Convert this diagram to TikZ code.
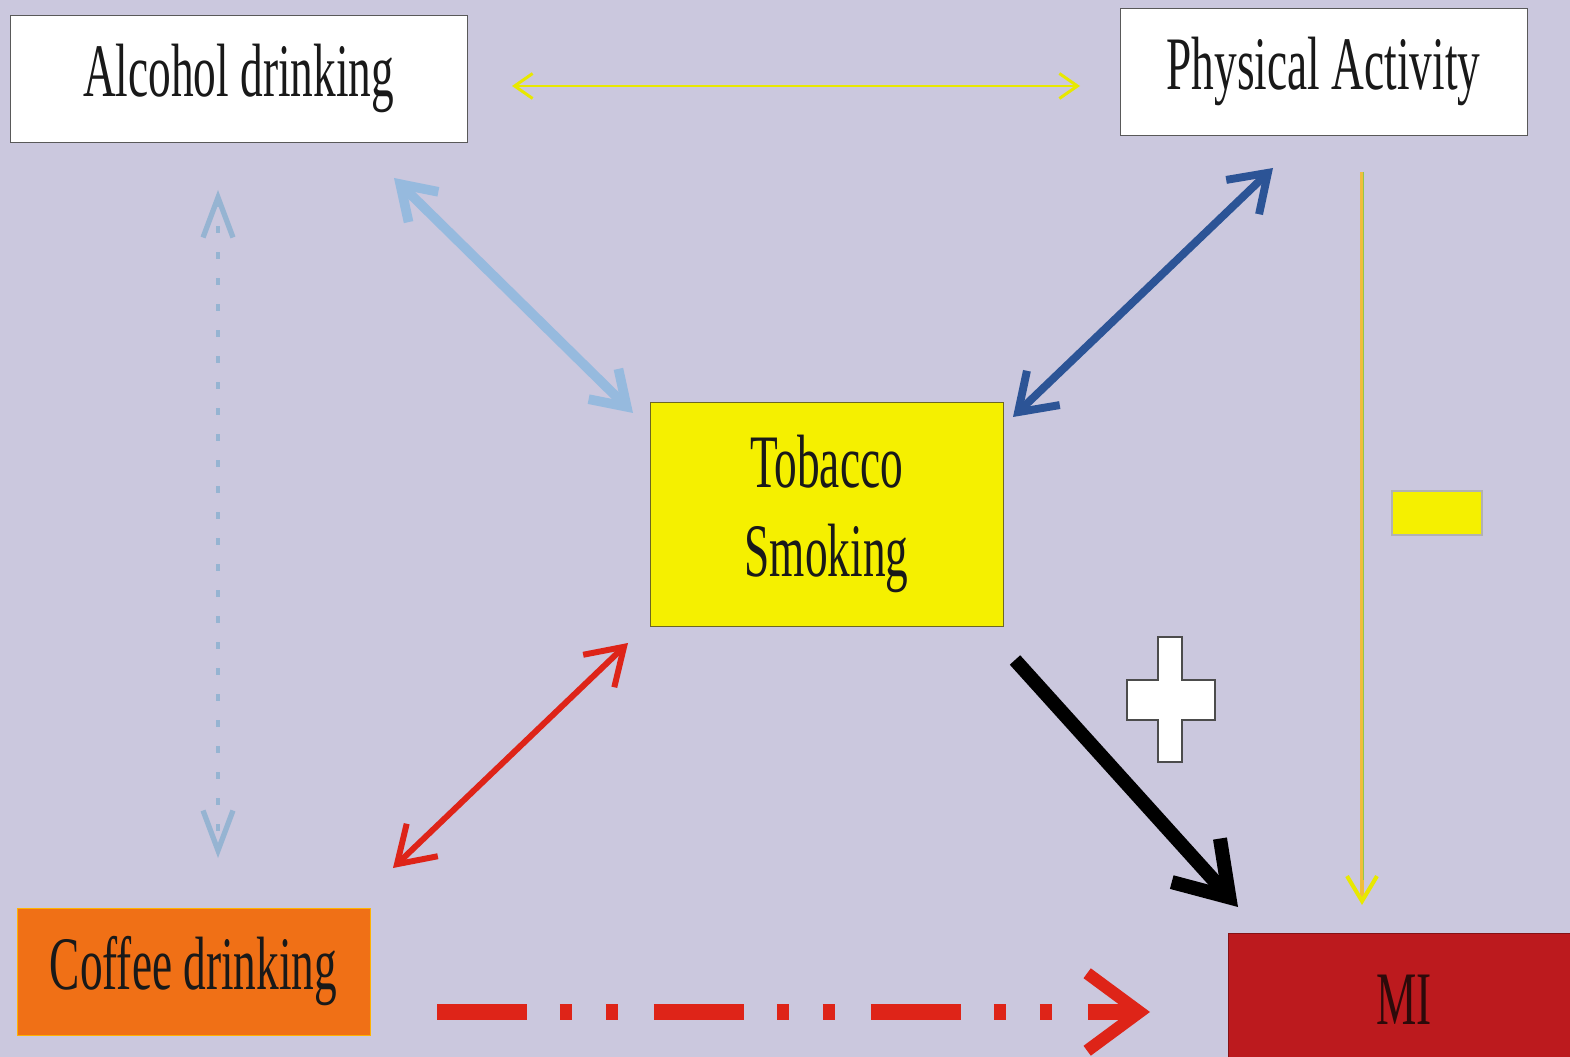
\documentclass[tikz,border=0pt]{standalone}
\usepackage{fontspec}
\setmainfont{Liberation Serif}
\usepackage{graphicx}
\usetikzlibrary{arrows.meta}

\definecolor{bgcol}{RGB}{203,200,222}
\definecolor{tobyellow}{RGB}{245,240,0}
\definecolor{cofforange}{RGB}{240,112,22}
\definecolor{mired}{RGB}{188,26,30}
\definecolor{lightblue}{RGB}{150,186,222}
\definecolor{darkblue}{RGB}{44,84,150}
\definecolor{arrowred}{RGB}{222,36,24}
\definecolor{lineyellow}{RGB}{232,232,0}
\definecolor{lineorange}{RGB}{240,190,60}
\definecolor{linegreen}{RGB}{150,200,70}
\definecolor{dotblue}{RGB}{150,180,210}

\newcommand{\narrow}[1]{\scalebox{0.6}[1]{#1}}

\begin{document}
\begin{tikzpicture}[x=0.02cm,y=-0.02cm,
    box/.style={draw,inner sep=0pt,text=black!90,font=\fontsize{43}{51}\selectfont,align=center},
    link/.style={line cap=butt}]
\useasboundingbox (0,0) rectangle (1570,1057);
\fill[bgcol] (0,0) rectangle (1570,1057);

% the five boxes
\node[box,fill=white,draw=gray!70!black,minimum width=9.14cm,minimum height=2.54cm] (alc) at (238.5,78.5) {\narrow{Alcohol drinking}};
\node[box,fill=white,draw=gray!70!black,minimum width=8.14cm,minimum height=2.54cm] (phys) at (1323.5,71.5) {\narrow{Physical Activity}};
\node[box,fill=tobyellow,draw=olive!70!black,minimum width=7.06cm,minimum height=4.48cm] (tob) at (826.5,514) {\narrow{Tobacco}\\\narrow{Smoking}};
\node[box,fill=cofforange,draw=orange!60!yellow,minimum width=7.06cm,minimum height=2.54cm] (cof) at (193.5,971.5) {\narrow{Coffee drinking}};
\node[box,fill=mired,draw=mired!70!black,text={rgb,255:red,45;green,10;blue,10},minimum width=7.04cm,minimum height=2.68cm] (mi) at (1404,1000) {\narrow{MI}};

% arrow ends
\coordinate (alc-e) at (512,86);
\coordinate (phys-w) at (1080,86);
\coordinate (alc-se) at (394,178);
\coordinate (tob-nw) at (633,413);
\coordinate (phys-sw) at (1273,168);
\coordinate (tob-ne) at (1013,417);
\coordinate (cof-ne) at (393,868);
\coordinate (tob-sw) at (628,643);
\coordinate (tob-se) at (1015,660);
\coordinate (mi-nw) at (1238,907);
\coordinate (phys-s) at (1362,172);
\coordinate (mi-n) at (1362,905);
\coordinate (alc-s) at (218,190);
\coordinate (cof-n) at (218,858);
\coordinate (cof-e) at (437,1012);
\coordinate (mi-w) at (1150,1012);

% connectors
\draw[link,lineyellow,line width=1.7pt,{Straight Barb[length=0.36cm,width=0.5cm]}-{Straight Barb[length=0.36cm,width=0.5cm]}] (alc-e) -- (phys-w);
\draw[link,lightblue,line width=5.5pt,{Straight Barb[length=0.65cm,width=0.85cm]}-{Straight Barb[length=0.65cm,width=0.85cm]}] (alc-se) -- (tob-nw);
\draw[link,darkblue,line width=4.5pt,{Straight Barb[length=0.7cm,width=0.95cm]}-{Straight Barb[length=0.7cm,width=0.95cm]}] (phys-sw) -- (tob-ne);
\draw[link,arrowred,line width=3.4pt,{Straight Barb[length=0.7cm,width=0.9cm]}-{Straight Barb[length=0.7cm,width=0.9cm]}] (cof-ne) -- (tob-sw);
\draw[link,black,line width=8pt,-{Straight Barb[length=1.0cm,width=1.3cm]}] (tob-se) -- (mi-nw);
\draw[link,lineorange,line width=2.3pt,-{Straight Barb[color=lineyellow,length=0.5cm,width=0.6cm]}] (phys-s) -- (mi-n);
\draw[link,linegreen,line width=0.8pt,shorten >=0.5cm] ([xshift=0.8pt]phys-s) -- ([xshift=0.8pt]mi-n);
\draw[link,dotblue,line width=2.6pt,dash pattern=on 0.14cm off 0.38cm,{Straight Barb[length=0.8cm,width=0.6cm,line width=3pt]}-{Straight Barb[length=0.8cm,width=0.6cm,line width=3pt]}] (alc-s) -- (cof-n);
\draw[link,arrowred,line width=9.6pt,dash pattern=on 1.8cm off 0.66cm on 0.24cm off 0.68cm on 0.24cm off 0.72cm,-{Straight Barb[length=1.05cm,width=1.55cm,line width=7pt]}] (cof-e) -- (mi-w);

% plus and minus signs
\filldraw[fill=white,draw=gray!60!black,line width=1.2pt] (1158,637) -- (1182,637) -- (1182,680) -- (1215,680) -- (1215,720) -- (1182,720) -- (1182,762) -- (1158,762) -- (1158,720) -- (1127,720) -- (1127,680) -- (1158,680) -- cycle;
\filldraw[fill=tobyellow,draw=gray!60,line width=0.8pt] (1392,491) rectangle (1482,535);
\end{tikzpicture}
\end{document}
